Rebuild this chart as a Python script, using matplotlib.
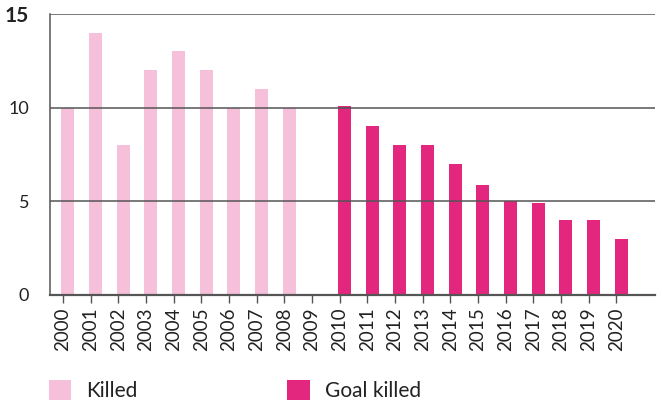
import matplotlib
matplotlib.use("Agg")
import matplotlib.pyplot as plt
from matplotlib.patches import Patch

years = [str(y) for y in range(2000, 2021)]
killed_years = years[:9]
killed = [10, 14, 8, 12, 13, 12, 10, 11, 10]
goal_years = years[10:]
goal_killed = [10.1, 9, 8, 8, 7, 5.85, 5, 4.9, 4, 4, 3]
y_ticks = [0, 5, 10, 15]

light = "#F6BFDA"
dark = "#E3277F"
grid_c = "#555555"

plt.rcParams['font.family'] = ['Lato', 'DejaVu Sans']

fig = plt.figure(figsize=(6.62, 4.08), dpi=100)
ax = fig.add_axes([0.0755, 0.277, 0.914, 0.689])

pos = {y: i for i, y in enumerate(years)}
off = 0.17
w = 0.47
ax.bar([pos[y] + off for y in killed_years], killed, width=w, color=light, zorder=1)
ax.bar([pos[y] + off for y in goal_years], goal_killed, width=w, color=dark, zorder=1)

ax.set_xlim(-0.47, 21.4)
ax.set_ylim(0, 15)
for v in y_ticks[1:]:
    ax.axhline(v, color=grid_c, lw=1.1, zorder=2)

ax.set_xticks(range(len(years)))
ax.set_xticklabels(years, rotation=90, fontsize=13.5, color="#222222")
ax.tick_params(axis='x', length=6, width=1, color=grid_c, pad=3)

ax.set_yticks(y_ticks)
ax.set_yticklabels([str(v) for v in y_ticks], fontsize=13, color="#222222")
ax.tick_params(axis='y', length=0, pad=15)
lbls = ax.get_yticklabels()
lbls[-1].set_fontweight('bold')
lbls[-1].set_fontsize(15)

for s in ['top', 'right']:
    ax.spines[s].set_visible(False)
ax.spines['left'].set_color(grid_c)
ax.spines['left'].set_linewidth(1.1)
ax.spines['bottom'].set_color(grid_c)
ax.spines['bottom'].set_linewidth(1.6)

handles = [Patch(facecolor=light, label="Killed"), Patch(facecolor=dark, label="Goal killed")]
fig.legend(handles=handles, loc='lower left', bbox_to_anchor=(0.045, -0.03), ncol=2,
           frameon=False, fontsize=15, handlelength=1.1, handleheight=1.1,
           handletextpad=0.7, columnspacing=7.2, labelcolor="#222222")

fig.savefig("out.png", dpi=100)
